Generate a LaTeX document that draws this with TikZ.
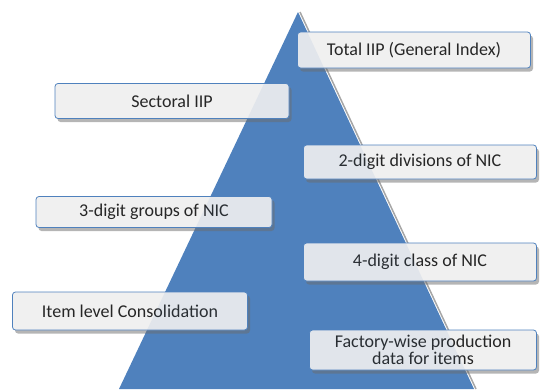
\documentclass[tikz,border=0pt]{standalone}
\usepackage{fontspec}
\setmainfont{Carlito}
\usetikzlibrary{shadows}
\definecolor{pyr}{HTML}{4F81BD}
\definecolor{boxfill}{HTML}{F0F0F0}
\tikzset{
  lvl/.style={draw=pyr, line width=0.8pt, rounded corners=3pt, fill=boxfill,
    drop shadow={shadow xshift=2.5pt, shadow yshift=-3.5pt, fill=gray!85!black},
    font=\fontsize{18}{18}\selectfont, text=black!85, inner sep=0pt, align=center},
}
\begin{document}
\begin{tikzpicture}[x=1pt,y=-1pt]
\useasboundingbox (0,0) rectangle (541,389);
% pyramid
\coordinate (apex) at (298,12);
\coordinate (bl) at (119,389);
\coordinate (br) at (474,389);
\draw[gray!70, line width=1.5pt] ([xshift=2pt]apex) -- ([xshift=2pt]br);
\fill[pyr] (apex) -- (bl) -- (br) -- cycle;
% boxes
\node[lvl, minimum width=233pt, minimum height=36pt] (total) at (414,50) {Total IIP (General Index)};
\node[lvl, minimum width=234pt, minimum height=35pt] (sect) at (172,101) {Sectoral IIP};
\node[lvl, minimum width=233pt, minimum height=34pt] (two) at (420,162) {2-digit divisions of NIC};
\node[lvl, minimum width=236pt, minimum height=31pt] (three) at (154,212) {3-digit groups of NIC};
\node[lvl, minimum width=233pt, minimum height=38pt] (four) at (420,262) {4-digit class of NIC};
\node[lvl, minimum width=235pt, minimum height=38pt] (item) at (130,311) {Item level Consolidation};
\node[lvl, minimum width=227pt, minimum height=40pt, font=\fontsize{18}{17}\selectfont] (fact) at (423,350) {Factory-wise production\\data for items};
% faint tint of the pyramid through the boxes
\foreach \b in {total,sect,two,three,four,item,fact}{
  \begin{scope}
    \clip[rounded corners=3pt] (\b.south west) rectangle (\b.north east);
    \fill[pyr, opacity=0.09] (apex) -- (bl) -- (br) -- cycle;
  \end{scope}
}
\end{tikzpicture}
\end{document}
